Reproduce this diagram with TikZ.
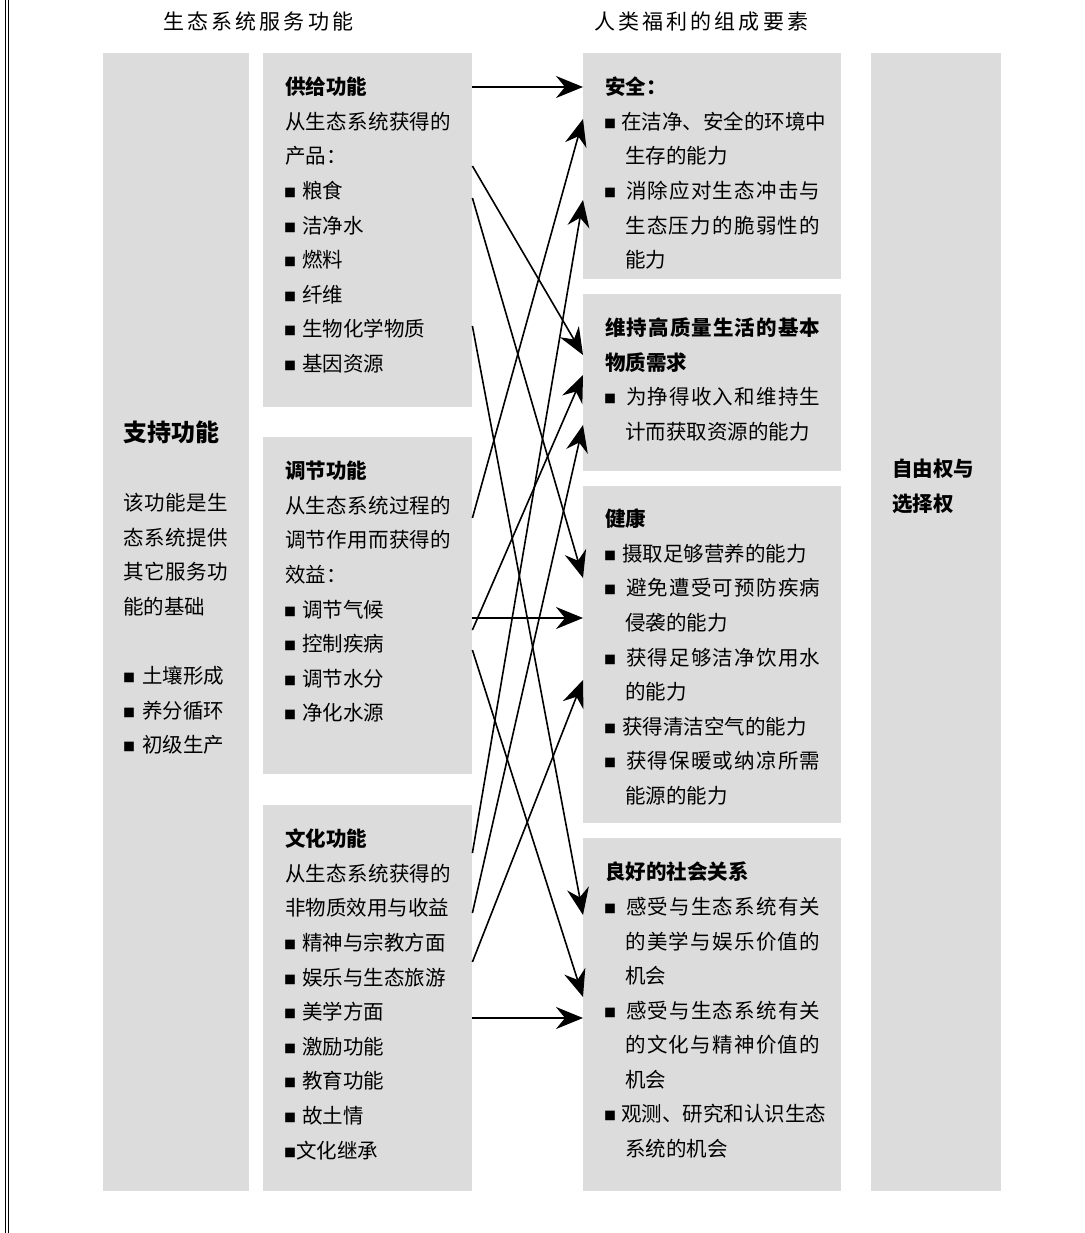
\documentclass[tikz,border=0pt]{standalone}
\usepackage{fontspec}
\setmainfont{Noto Sans CJK SC}
\usetikzlibrary{arrows.meta}
\definecolor{boxgray}{RGB}{220,220,220}
\makeatletter
\newcommand\jst[2]{\makebox[#1][s]{\@tfor\jch:=#2\do{\jch\hfil}\unskip}}
\makeatother
\newcommand\blt{\makebox[10pt][c]{\raisebox{1pt}{\fontsize{12pt}{12pt}\selectfont ■}}}
\begin{document}
\begin{tikzpicture}[x=1pt,y=-1pt,
  box/.style={fill=boxgray, draw=none, inner sep=0pt, anchor=north west},
  txt/.style={anchor=west, inner sep=0pt, font=\fontsize{20.5pt}{20.5pt}\selectfont, text height=18pt, text depth=2.5pt},
  hd/.style={txt, font=\fontsize{20.5pt}{20.5pt}\selectfont\bfseries},
  ttl/.style={txt, font=\fontsize{21pt}{21pt}\selectfont},
  arr/.style={line width=1.6pt, -{Stealth[length=27pt,width=22pt,inset=9pt]}}]
\useasboundingbox (0,0) rectangle (1084,1233);
% left rule
\draw[line width=1pt] (5.5,0) -- (5.5,1233);
\draw[line width=1pt] (8.5,0) -- (8.5,1233);
% boxes
\node[box, minimum width=146pt, minimum height=1138pt] (supp) at (103,53) {};
\node[box, minimum width=209pt, minimum height=354pt] (prov) at (263,53) {};
\node[box, minimum width=209pt, minimum height=337pt] (reg) at (263,437) {};
\node[box, minimum width=209pt, minimum height=386pt] (cul) at (263,805) {};
\node[box, minimum width=258pt, minimum height=226pt] (saf) at (583,53) {};
\node[box, minimum width=258pt, minimum height=177pt] (mat) at (583,294) {};
\node[box, minimum width=258pt, minimum height=337pt] (hea) at (583,486) {};
\node[box, minimum width=258pt, minimum height=353pt] (soc) at (583,838) {};
\node[box, minimum width=130pt, minimum height=1138pt] (free) at (871,53) {};
% titles
\node[ttl] (title1) at (163,22) {\jst{190pt}{生态系统服务功能}};
\node[ttl] (title2) at (594,22) {\jst{214pt}{人类福利的组成要素}};
% supporting
\node[txt, font=\fontsize{24pt}{24pt}\selectfont\bfseries, text height=21pt, text depth=3pt] (supT) at (123,432) {支持功能};
\node[txt] (sup1) at (123,503) {\jst{105pt}{该功能是生}};
\node[txt] (sup2) at (123,537.6) {\jst{105pt}{态系统提供}};
\node[txt] (sup3) at (123,572.2) {\jst{105pt}{其它服务功}};
\node[txt] (sup4) at (123,606.8) {能的基础};
\node[txt] (sup5) at (124,676) {\blt\hspace{8pt}土壤形成};
\node[txt] (sup6) at (124,710.6) {\blt\hspace{8pt}养分循环};
\node[txt] (sup7) at (124,745.2) {\blt\hspace{8pt}初级生产};
% provisioning
\node[hd] (provT) at (285,87) {供给功能};
\node[txt] (prov1) at (285,121.6) {\jst{166pt}{从生态系统获得的}};
\node[txt] (prov2) at (285,156.2) {产品：};
\node[txt] (prov3) at (285,190.8) {\blt\hspace{7pt}粮食};
\node[txt] (prov4) at (285,225.4) {\blt\hspace{7pt}洁净水};
\node[txt] (prov5) at (285,260) {\blt\hspace{7pt}燃料};
\node[txt] (prov6) at (285,294.6) {\blt\hspace{7pt}纤维};
\node[txt] (prov7) at (285,329.2) {\blt\hspace{7pt}生物化学物质};
\node[txt] (prov8) at (285,363.8) {\blt\hspace{7pt}基因资源};
% regulating
\node[hd] (regT) at (285,471) {调节功能};
\node[txt] (reg1) at (285,505.6) {\jst{166pt}{从生态系统过程的}};
\node[txt] (reg2) at (285,540.2) {\jst{166pt}{调节作用而获得的}};
\node[txt] (reg3) at (285,574.8) {效益：};
\node[txt] (reg4) at (285,609.4) {\blt\hspace{7pt}调节气候};
\node[txt] (reg5) at (285,644) {\blt\hspace{7pt}控制疾病};
\node[txt] (reg6) at (285,678.6) {\blt\hspace{7pt}调节水分};
\node[txt] (reg7) at (285,713.2) {\blt\hspace{7pt}净化水源};
% cultural
\node[hd] (culT) at (285,839) {文化功能};
\node[txt] (cul1) at (285,873.6) {\jst{166pt}{从生态系统获得的}};
\node[txt] (cul2) at (285,908.2) {非物质效用与收益};
\node[txt] (cul3) at (285,942.8) {\blt\hspace{7pt}精神与宗教方面};
\node[txt] (cul4) at (285,977.4) {\blt\hspace{7pt}娱乐与生态旅游};
\node[txt] (cul5) at (285,1012) {\blt\hspace{7pt}美学方面};
\node[txt] (cul6) at (285,1046.6) {\blt\hspace{7pt}激励功能};
\node[txt] (cul7) at (285,1081.2) {\blt\hspace{7pt}教育功能};
\node[txt] (cul8) at (285,1115.8) {\blt\hspace{7pt}故土情};
\node[txt] (cul9) at (285,1150.4) {\blt\hspace{1pt}文化继承};
% security
\node[hd] (safT) at (605,87) {安全：};
\node[txt] (saf1) at (605,121.6) {\blt\hspace{6pt}在洁净、安全的环境中};
\node[txt] (saf2) at (625,156.2) {生存的能力};
\node[txt] (saf3) at (605,190.8) {\blt\hspace{11pt}\jst{194pt}{消除应对生态冲击与}};
\node[txt] (saf4) at (625,225.4) {\jst{195pt}{生态压力的脆弱性的}};
\node[txt] (saf5) at (625,260) {能力};
% basic material
\node[hd] (matT) at (605,328) {\jst{215pt}{维持高质量生活的基本}};
\node[hd] (matT2) at (605,362.6) {物质需求};
\node[txt] (mat1) at (605,397.2) {\blt\hspace{11pt}\jst{194pt}{为挣得收入和维持生}};
\node[txt] (mat2) at (625,431.8) {计而获取资源的能力};
% health
\node[hd] (heaT) at (605,519) {健康};
\node[txt] (hea1) at (605,553.6) {\blt\hspace{7pt}摄取足够营养的能力};
\node[txt] (hea2) at (605,588.2) {\blt\hspace{11pt}\jst{194pt}{避免遭受可预防疾病}};
\node[txt] (hea3) at (625,622.8) {侵袭的能力};
\node[txt] (hea4) at (605,657.4) {\blt\hspace{11pt}\jst{194pt}{获得足够洁净饮用水}};
\node[txt] (hea5) at (625,692) {的能力};
\node[txt] (hea6) at (605,726.6) {\blt\hspace{7pt}获得清洁空气的能力};
\node[txt] (hea7) at (605,761.2) {\blt\hspace{11pt}\jst{194pt}{获得保暖或纳凉所需}};
\node[txt] (hea8) at (625,795.8) {能源的能力};
% social relations
\node[hd] (socT) at (605,872) {良好的社会关系};
\node[txt] (soc1) at (605,907) {\blt\hspace{11pt}\jst{194pt}{感受与生态系统有关}};
\node[txt] (soc2) at (625,941.5) {\jst{195pt}{的美学与娱乐价值的}};
\node[txt] (soc3) at (625,976) {机会};
\node[txt] (soc4) at (605,1010.5) {\blt\hspace{11pt}\jst{194pt}{感受与生态系统有关}};
\node[txt] (soc5) at (625,1045) {\jst{195pt}{的文化与精神价值的}};
\node[txt] (soc6) at (625,1079.5) {机会};
\node[txt] (soc7) at (605,1114) {\blt\hspace{6pt}观测、研究和认识生态};
\node[txt] (soc8) at (625,1148.5) {系统的机会};
% freedom
\node[hd] (freeT1) at (892,469) {自由权与};
\node[hd] (freeT2) at (892,503.6) {选择权};
% connectors
\draw[arr] (prov.east |- 0,87) -- (saf.west |- 0,87);
\draw[arr] (prov.east |- 0,166) -- (mat.west |- 0,355);
\draw[arr] (prov.east |- 0,198) -- (hea.west |- 0,578);
\draw[arr] (prov.east |- 0,326) -- (soc.west |- 0,915);
\draw[arr] (reg.east |- 0,518) -- (saf.west |- 0,119);
\draw[arr] (reg.east |- 0,630) -- (mat.west |- 0,375);
\draw[arr] (reg.east |- 0,618) -- (hea.west |- 0,618);
\draw[arr] (reg.east |- 0,650) -- (soc.west |- 0,997);
\draw[arr] (cul.east |- 0,853) -- (saf.west |- 0,200);
\draw[arr] (cul.east |- 0,913) -- (mat.west |- 0,425);
\draw[arr] (cul.east |- 0,962) -- (hea.west |- 0,680);
\draw[arr] (cul.east |- 0,1018) -- (soc.west |- 0,1018);
\end{tikzpicture}
\end{document}
